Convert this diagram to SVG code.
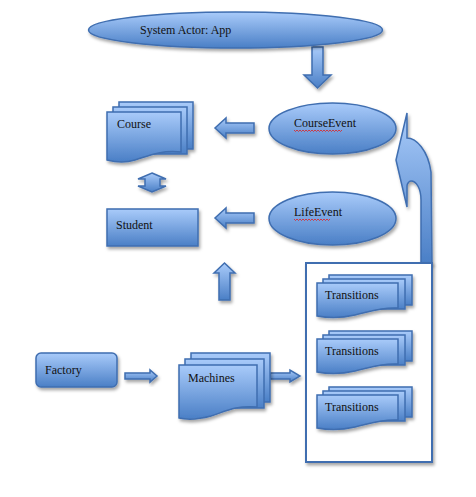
<svg xmlns="http://www.w3.org/2000/svg" width="476" height="497" viewBox="0 0 476 497">
<defs>
<linearGradient id="g" x1="0" y1="0" x2="0" y2="1">
<stop offset="0" stop-color="#a9cbfa"/>
<stop offset="1" stop-color="#4a7fc6"/>
</linearGradient>
<filter id="sh" x="-20%" y="-20%" width="150%" height="160%">
<feDropShadow dx="1.5" dy="2.5" stdDeviation="1.8" flood-color="#000" flood-opacity="0.35"/>
</filter>
<style>
.s{fill:url(#g);stroke:#3f6eb0;stroke-width:1.5;filter:url(#sh)}
.p{fill:url(#g);stroke:#3f6eb0;stroke-width:1.5}
.t{font-family:"Liberation Serif","Times New Roman",serif;font-size:12px;fill:#111}
.sq{fill:none;stroke:#e02020;stroke-width:0.8}
</style>
</defs>
<g id="connectors">
<path class="s" d="M312,47 H323 V75 H331 L317.5,88 L304,75 H312 Z"/>
<path class="s" d="M254,123 V133 H226 V138 L215,128 L226,118 V123 Z"/>
<path class="s" d="M254,213 V223 H226 V228 L215,218 L226,208 V213 Z"/>
<path class="s" d="M152,173 L166,179 H160 V186 H166 L152,192 L138,186 H145 V179 H138 Z"/>
<path class="s" d="M219,300 V273 H214 L224.5,263 L235,273 H230 V300 Z"/>
<path class="s" d="M125,373 H150 V370 L157,376 L150,382 V379 H125 Z"/>
<path class="s" d="M270,373 H290 V370 L300,376 L290,382 V379 H270 Z"/>
<path class="s" d="M407,113 L407,138 C416,138 428,150 431,172 L432,264 L421,264 L421,200 C421,188 416,181 411,181 C409,181 407,184 407,186 L407,207 L396,160 Z"/>
</g>
<g id="system-actor">
<ellipse class="s" cx="235.5" cy="30" rx="147" ry="18"/>
<text class="t" x="140" y="34">System Actor: App</text>
</g>
<g id="course">
<g filter="url(#sh)">
<rect class="p" x="119" y="102" width="74" height="47"/>
<rect class="p" x="113" y="107" width="74" height="47"/>
<path class="p" d="M107,112 H181 V152 C160,150 148,156 135,160 C125,163 115,162 107,160 Z"/>
</g>
<text class="t" x="117" y="128">Course</text>
</g>
<g id="student">
<rect class="s" x="107" y="209" width="91" height="37"/>
<text class="t" x="116" y="229">Student</text>
</g>
<g id="course-event">
<ellipse class="s" cx="332.5" cy="128.5" rx="63.5" ry="25.5"/>
<text class="t" x="294" y="127">CourseEvent</text>
<path class="sq" d="M294,130 l1.5,1.5 l1.5,-1.5 l1.5,1.5 l1.5,-1.5 l1.5,1.5 l1.5,-1.5 l1.5,1.5 l1.5,-1.5 l1.5,1.5 l1.5,-1.5 l1.5,1.5 l1.5,-1.5 l1.5,1.5 l1.5,-1.5 l1.5,1.5 l1.5,-1.5 l1.5,1.5 l1.5,-1.5 l1.5,1.5 l1.5,-1.5 l1.5,1.5 l1.5,-1.5 l1.5,1.5 l1.5,-1.5 l1.5,1.5 l1.5,-1.5 l1.5,1.5 l1.5,-1.5 l1.5,1.5 l1.5,-1.5 l1.5,1.5 l1.5,-1.5"/>
</g>
<g id="life-event">
<ellipse class="s" cx="332.5" cy="218.5" rx="63.5" ry="26.5"/>
<text class="t" x="294" y="216">LifeEvent</text>
<path class="sq" d="M294,219 l1.5,1.5 l1.5,-1.5 l1.5,1.5 l1.5,-1.5 l1.5,1.5 l1.5,-1.5 l1.5,1.5 l1.5,-1.5 l1.5,1.5 l1.5,-1.5 l1.5,1.5 l1.5,-1.5 l1.5,1.5 l1.5,-1.5 l1.5,1.5 l1.5,-1.5 l1.5,1.5 l1.5,-1.5 l1.5,1.5 l1.5,-1.5 l1.5,1.5 l1.5,-1.5 l1.5,1.5 l1.5,-1.5"/>
</g>
<g id="factory">
<rect class="s" x="36" y="353" width="81" height="34" rx="5"/>
<text class="t" x="45" y="374">Factory</text>
</g>
<g id="machines">
<g filter="url(#sh)">
<rect class="p" x="191" y="353" width="79" height="49"/>
<rect class="p" x="185" y="359" width="79" height="49"/>
<path class="p" d="M179,365 H257 V407 C236,405 224,412 211,416 C200,419 188,420 179,418 Z"/>
</g>
<text class="t" x="188" y="382">Machines</text>
</g>
<g id="transitions-box">
<rect x="306" y="263" width="126" height="199" fill="#fff" stroke="#3f6eb0" stroke-width="2" filter="url(#sh)"/>
</g>
<g id="transitions-1">
<g filter="url(#sh)">
<rect class="p" x="329" y="275" width="83" height="30"/>
<rect class="p" x="323" y="279" width="82" height="30"/>
<path class="p" d="M317,283 H398 V308 C380,307 368,312 355,315 C342,318 328,318 317,316 Z"/>
</g>
<text class="t" x="325" y="299">Transitions</text>
</g>
<g id="transitions-2">
<g filter="url(#sh)">
<rect class="p" x="329" y="331" width="83" height="30"/>
<rect class="p" x="323" y="335" width="82" height="30"/>
<path class="p" d="M317,339 H398 V364 C380,363 368,368 355,371 C342,374 328,374 317,372 Z"/>
</g>
<text class="t" x="325" y="355">Transitions</text>
</g>
<g id="transitions-3">
<g filter="url(#sh)">
<rect class="p" x="329" y="387" width="83" height="30"/>
<rect class="p" x="323" y="391" width="82" height="30"/>
<path class="p" d="M317,395 H398 V420 C380,419 368,424 355,427 C342,430 328,430 317,428 Z"/>
</g>
<text class="t" x="325" y="411">Transitions</text>
</g>
</svg>
